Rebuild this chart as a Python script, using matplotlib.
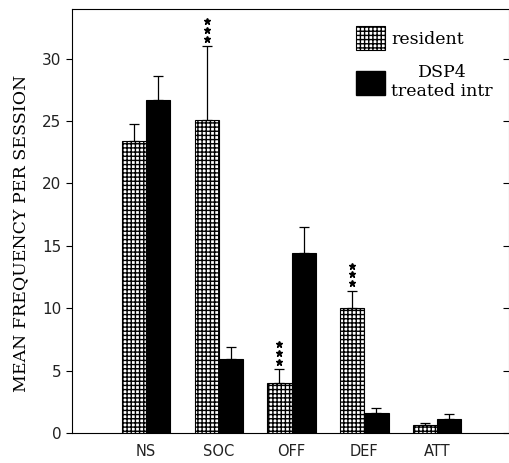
import matplotlib.pyplot as plt
import numpy as np
from matplotlib.patches import Patch

# behaviour categories
categories = ["NS", "SOC", "OFF", "DEF", "ATT"]

# mean frequency per session and upper SEM bars
resident_mean = [23.4, 25.1, 4.0, 10.0, 0.6]
resident_err = [1.4, 5.9, 1.1, 1.4, 0.2]
dsp4_mean = [26.7, 5.9, 14.4, 1.6, 1.1]
dsp4_err = [1.9, 1.0, 2.1, 0.4, 0.4]

# groups where resident differs (***)
starred = ["SOC", "OFF", "DEF"]

fig = plt.figure(figsize=(5.10, 4.63), dpi=100)
ax = fig.add_axes([0.141, 0.065, 0.857, 0.916])

x = np.arange(len(categories))
w = 0.334

plt.rcParams["hatch.linewidth"] = 1.0
ax.bar(x - w / 2, resident_mean, w, color="white", edgecolor="black",
       hatch="++++", linewidth=0.8)
ax.bar(x + w / 2, dsp4_mean, w, color="black", edgecolor="black", linewidth=0.8)

ax.errorbar(x - w / 2, resident_mean, yerr=[np.zeros(len(x)), resident_err],
            fmt="none", ecolor="black", elinewidth=0.9, capsize=3.5, capthick=0.9)
ax.errorbar(x + w / 2, dsp4_mean, yerr=[np.zeros(len(x)), dsp4_err],
            fmt="none", ecolor="black", elinewidth=0.9, capsize=3.5, capthick=0.9)

# significance stars stacked vertically above the resident bar
for cat in starred:
    i = categories.index(cat)
    top = resident_mean[i] + resident_err[i]
    for k in range(3):
        ax.plot(x[i] - w / 2, top + 0.58 + 0.72 * k, marker="*", ms=5,
                color="black", mec="black")

ax.set_xlim(-1.02, 4.99)
ax.set_ylim(0, 34)
ax.set_xticks(x)
ax.set_xticklabels(categories, fontsize=10.5, color="#222222")
ax.tick_params(axis="x", length=0, pad=8)
ax.set_yticks(range(0, 31, 5))
ax.tick_params(axis="y", direction="out", length=4, labelsize=11,
               labelcolor="#222222", right=True)
ax.yaxis.set_tick_params(which="major", width=0.8)

for side in ["left", "bottom", "top", "right"]:
    ax.spines[side].set_linewidth(0.8)
ax.spines["right"].set_color("#888888")

# right-side ticks point inward
for t in ax.yaxis.get_major_ticks():
    t.tick2line.set_marker(0)

ax.set_ylabel("MEAN FREQUENCY PER SESSION", fontsize=12.5,
              family="DejaVu Serif")
ax.yaxis.set_label_coords(-0.097, 0.47)

handles = [
    Patch(facecolor="white", edgecolor="black", hatch="++++", linewidth=0.8),
    Patch(facecolor="black", edgecolor="black"),
]
leg = ax.legend(handles, ["resident", "DSP4\ntreated intr"], loc="upper left",
                frameon=False, prop={"family": "DejaVu Serif", "size": 12.5},
                handlelength=1.7, handleheight=1.7, handletextpad=0.35,
                labelspacing=0.8, borderaxespad=0.0,
                bbox_to_anchor=(0.633, 0.975))
for t in leg.get_texts():
    t.set_multialignment("center")

fig.savefig("out.png", dpi=100)
